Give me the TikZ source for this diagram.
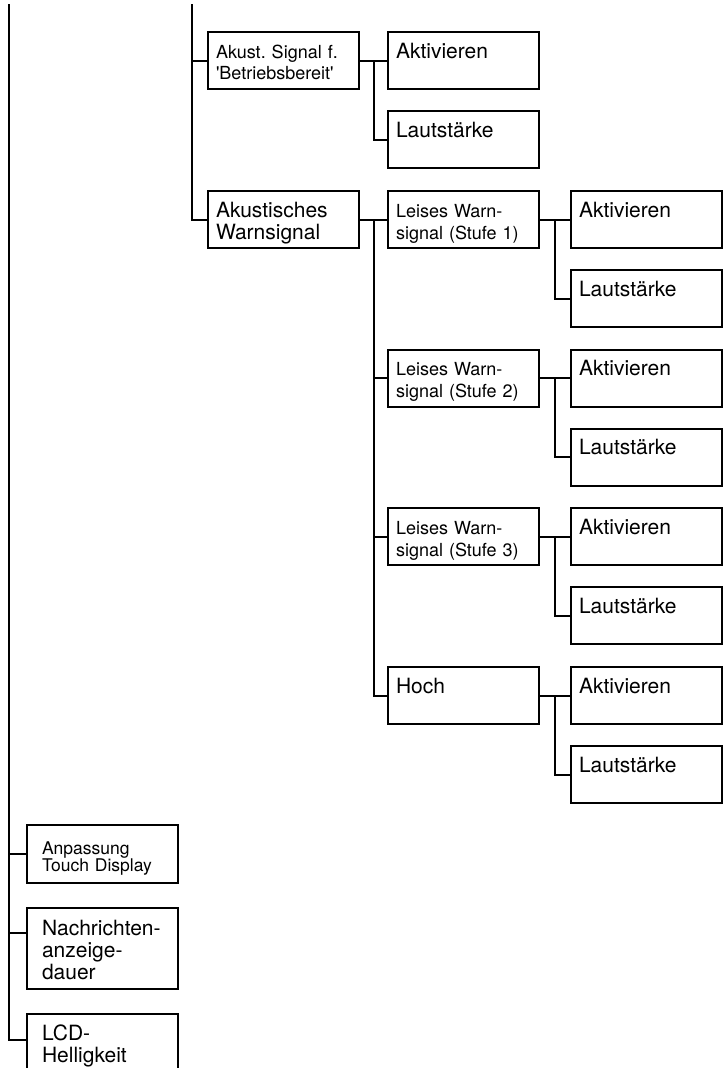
\documentclass[tikz,border=0pt]{standalone}
\usepackage{fontspec}
\newfontfamily\hv{TeX Gyre Heros}
\frenchspacing
\tikzset{
  bx/.style={draw, line width=2pt, anchor=north west, inner xsep=8pt, inner ysep=0pt,
    text width=135pt, align=left, text height=26pt, text depth=31pt,
    font=\hv\fontsize{21}{22}\selectfont},
  bxs/.style={bx, font=\hv\fontsize{18}{21.5}\selectfont},
  bxm/.style={bx, font=\hv\fontsize{18}{22}\selectfont},
  bxl/.style={bx, inner xsep=15pt, text width=121pt, font=\hv\fontsize{21}{22}\selectfont},
  ln/.style={line width=2pt},
}
\begin{document}
\begin{tikzpicture}[x=1pt,y=-1pt]
\useasboundingbox (0,0) rectangle (723,1068);
% column 2
\node[bxs] (a1) at (207,31) {Akust. Signal f.\\'Betriebsbereit'};
\node[bx] (a2) at (207,190) {Akustisches\\Warnsignal};
% column 3
\node[bx] (b1) at (387,31) {Aktivieren};
\node[bx] (b2) at (387,110) {Lautstärke};
\node[bxm] (l1) at (387,190) {Leises Warn-\\signal (Stufe 1)};
\node[bxm] (l2) at (387,348.7) {Leises Warn-\\signal (Stufe 2)};
\node[bxm] (l3) at (387,507.3) {Leises Warn-\\signal (Stufe 3)};
\node[bx] (h) at (387,666) {Hoch};
% column 4
\node[bx] (k1a) at (570,190) {Aktivieren};
\node[bx] (k1b) at (570,269) {Lautstärke};
\node[bx] (k2a) at (570,348.7) {Aktivieren};
\node[bx] (k2b) at (570,427.7) {Lautstärke};
\node[bx] (k3a) at (570,507.3) {Aktivieren};
\node[bx] (k3b) at (570,586.3) {Lautstärke};
\node[bx] (k4a) at (570,666) {Aktivieren};
\node[bx] (k4b) at (570,745) {Lautstärke};
% column 1
\node[bxl, font=\hv\fontsize{17.5}{17.5}\selectfont, text height=29pt, text depth=29pt] (anp) at (26,824) {Anpassung\\Touch Display};
\node[bxl, text height=27pt, text depth=54pt] (nach) at (26,907) {Nachrichten-\\anzeige-\\dauer};
\node[bxl, text depth=60pt] (lcd) at (26,1013) {LCD-\\Helligkeit};
% trunks
\coordinate (t0) at (9,4);
\coordinate (t1) at (192,4);
\coordinate (nachc) at ([yshift=-26pt]nach.north west);
\coordinate (lcdc) at ([yshift=-27pt]lcd.north west);
\draw[ln] (t0) |- (lcdc);
\draw[ln] (anp.west) -- (anp.west -| t0);
\draw[ln] (nachc) -- (nachc -| t0);
\draw[ln] (t1) |- (a2.west);
\draw[ln] (a1.west) -- (a1.west -| t1);
% group 1
\draw[ln] (a1.east) -- coordinate[pos=0.5] (j1) (b1.west);
\draw[ln] (j1) |- (b2.west);
% group 2
\draw[ln] (a2.east) -- coordinate[pos=0.5] (j2) (l1.west);
\draw[ln] (j2) |- (h.west);
\draw[ln] (l2.west -| j2) -- (l2.west);
\draw[ln] (l3.west -| j2) -- (l3.west);
% sub groups
\draw[ln] (l1.east) -- coordinate[pos=0.5] (m1) (k1a.west);
\draw[ln] (m1) |- (k1b.west);
\draw[ln] (l2.east) -- coordinate[pos=0.5] (m2) (k2a.west);
\draw[ln] (m2) |- (k2b.west);
\draw[ln] (l3.east) -- coordinate[pos=0.5] (m3) (k3a.west);
\draw[ln] (m3) |- (k3b.west);
\draw[ln] (h.east) -- coordinate[pos=0.5] (m4) (k4a.west);
\draw[ln] (m4) |- (k4b.west);
\end{tikzpicture}
\end{document}
